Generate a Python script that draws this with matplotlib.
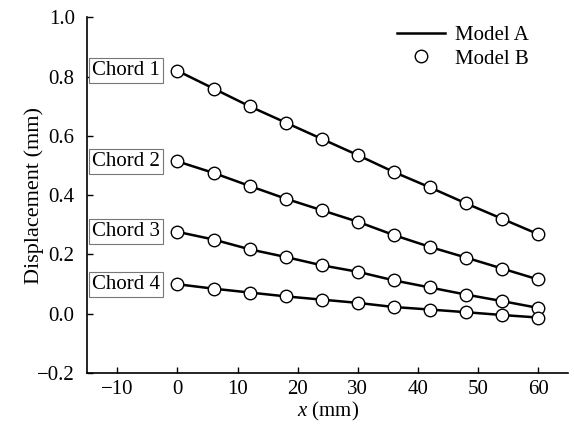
import matplotlib
matplotlib.use("Agg")
import matplotlib.pyplot as plt
from matplotlib.lines import Line2D

plt.rcParams['font.family'] = ['Liberation Serif', 'DejaVu Serif']
plt.rcParams['mathtext.fontset'] = 'custom'
plt.rcParams['mathtext.it'] = 'Liberation Serif:italic'
plt.rcParams['mathtext.rm'] = 'Liberation Serif'

# Position along the chord (mm)
x_mm = [0, 6, 12, 18, 24, 30, 36, 42, 48, 54, 60]

# Displacement (mm) for each chord
chord1 = [0.82, 0.76, 0.70, 0.645, 0.59, 0.535, 0.478, 0.426, 0.372, 0.32, 0.268]
chord2 = [0.514, 0.475, 0.431, 0.388, 0.349, 0.31, 0.265, 0.225, 0.189, 0.152, 0.115]
chord3 = [0.276, 0.25, 0.217, 0.191, 0.163, 0.141, 0.112, 0.088, 0.064, 0.042, 0.019]
chord4 = [0.099, 0.084, 0.071, 0.058, 0.047, 0.036, 0.022, 0.0135, 0.0045, -0.005, -0.0135]

chord_labels = ["Chord 1", "Chord 2", "Chord 3", "Chord 4"]
series = [chord1, chord2, chord3, chord4]

x_ticks = [-10, 0, 10, 20, 30, 40, 50, 60]
y_ticks = [-0.2, 0.0, 0.2, 0.4, 0.6, 0.8, 1.0]

FS = 15

fig = plt.figure(figsize=(5.74, 4.26), dpi=100)
ax = fig.add_axes([0.152, 0.125, 0.838, 0.834])

for label, ys in zip(chord_labels, series):
    ax.plot(x_mm, ys, color='black', lw=1.8, zorder=2)
    ax.plot(x_mm, ys, ls='none', marker='o', ms=9, mfc='white',
            mec='black', mew=1.0, zorder=3)
    ax.text(-2.9, ys[0], label, ha='right', va='center', fontsize=FS,
            bbox=dict(boxstyle='square,pad=0.14', fc='white', ec='#777777', lw=0.8))

ax.set_xlim(-15, 65)
ax.set_ylim(-0.2, 1.0)
ax.set_xticks(x_ticks)
ax.set_yticks(y_ticks)
ax.set_yticklabels([f"{v:.1f}".replace('-', '\u2212') for v in y_ticks])
ax.tick_params(direction='in', length=4, width=1, labelsize=FS)
ax.tick_params(axis='y', pad=9)
ax.tick_params(axis='x', pad=5)
for s in ['top', 'right']:
    ax.spines[s].set_visible(False)
for s in ['left', 'bottom']:
    ax.spines[s].set_linewidth(1.2)

ax.set_xlabel(r'$x$ (mm)', fontsize=FS, labelpad=1)
ax.set_ylabel('Displacement (mm)', fontsize=16)
ax.yaxis.set_label_coords(-0.09, 0.5)

handles = [Line2D([], [], color='black', lw=1.8),
           Line2D([], [], ls='none', marker='o', ms=9, mfc='white', mec='black', mew=1.0)]
ax.legend(handles, ['Model A', 'Model B'], loc='upper right', frameon=False,
          fontsize=FS, handlelength=2.3, handletextpad=0.5, borderaxespad=0.2,
          labelspacing=0.2, bbox_to_anchor=(0.945, 1.013))

fig.savefig('out.png', dpi=100)
